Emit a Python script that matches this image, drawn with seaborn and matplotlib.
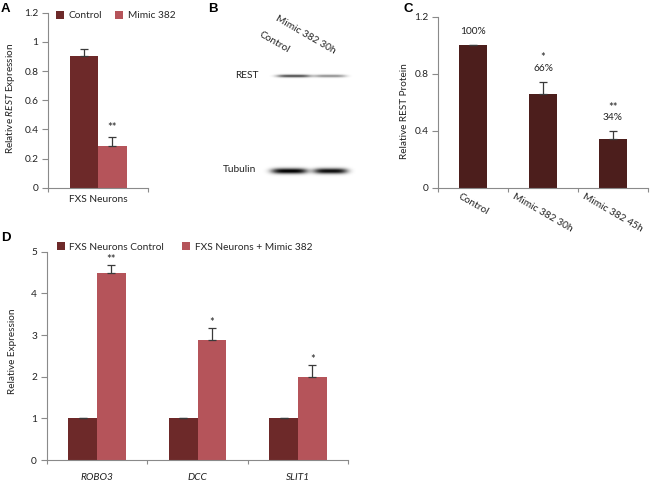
import numpy as np
import pandas as pd
import matplotlib
matplotlib.use("Agg")
import matplotlib.pyplot as plt
import seaborn as sns

# Panel A: REST expression
a_category = ["FXS Neurons"]
a_groups = ["Control", "Mimic 382"]
a_values = [0.90, 0.285]
a_errors = [0.05, 0.06]
a_stars = ["", "**"]

# Panel B: western blot lanes (relative band intensity)
b_lanes = ["Control", "Mimic 382 30h"]
b_rest = [0.68, 0.42]
b_tubulin = [1.0, 0.95]

# Panel C: REST protein
c_labels = ["Control", "Mimic 382 30h", "Mimic 382 45h"]
c_values = [1.0, 0.66, 0.34]
c_errors = [0.0, 0.085, 0.06]
c_percent = ["100%", "66%", "34%"]
c_stars = ["", "*", "**"]

# Panel D: target genes
d_genes = ["ROBO3", "DCC", "SLIT1"]
d_groups = ["FXS Neurons Control", "FXS Neurons + Mimic 382"]
d_control = [1.0, 1.0, 1.0]
d_control_err = [0.0, 0.0, 0.0]
d_mimic = [4.50, 2.87, 1.99]
d_mimic_err = [0.17, 0.30, 0.29]
d_stars = ["**", "*", "*"]

dark = "#6d2929"
light = "#b5545a"
c_color = "#4c1e1c"
axis_gray = "#8a8a8a"
text_col = "#222222"
fs = 7.3

sns.set_theme(style="white")
plt.rcParams["font.family"] = ["Lato", "DejaVu Sans"]
plt.rcParams["mathtext.fontset"] = "custom"
plt.rcParams["mathtext.rm"] = "Lato"
plt.rcParams["mathtext.it"] = "Lato:italic"

W, H = 656, 484
fig = plt.figure(figsize=(W / 100, H / 100), dpi=100)


def px_axes(left, top, right, bottom):
    return fig.add_axes([left / W, 1 - bottom / H, (right - left) / W, (bottom - top) / H])


def style_axes(ax, n_cats, yticks, ylabels):
    for s in ["top", "right"]:
        ax.spines[s].set_visible(False)
    for s in ["left", "bottom"]:
        ax.spines[s].set_color(axis_gray)
        ax.spines[s].set_linewidth(0.8)
    ax.set_xlim(-0.5, n_cats - 0.5)
    ax.set_yticks(yticks)
    ax.set_yticklabels(ylabels)
    ax.set_xticks(np.arange(-0.5, n_cats), minor=True)
    ax.tick_params(axis="x", which="major", length=0, labelsize=fs, labelcolor=text_col)
    ax.tick_params(axis="x", which="minor", bottom=True, direction="out", length=3,
                   width=0.8, color=axis_gray)
    ax.tick_params(axis="y", left=True, direction="out", length=4.5, width=0.8,
                   color=axis_gray, labelsize=fs, labelcolor=text_col, pad=2.5)
    ax.set_xlabel("")


def add_errors(ax, container, errs):
    for p, e in zip(container.patches, errs):
        x = p.get_x() + p.get_width() / 2
        h = p.get_height()
        ax.errorbar(x, h, yerr=[[0], [e]], fmt="none", ecolor="#3a3a3a",
                    elinewidth=0.9, capsize=2.8, capthick=0.9)


# ---------- Panel A ----------
axA = px_axes(48, 12.7, 148, 187.7)
dfA = pd.DataFrame({"cat": a_category * 2, "group": a_groups, "value": a_values})
sns.barplot(data=dfA, x="cat", y="value", hue="group", hue_order=a_groups,
            palette=[dark, light], width=0.57, saturation=1, errorbar=None,
            linewidth=0, ax=axA)
for cont, e in zip(axA.containers, a_errors):
    add_errors(axA, cont, [e])
for cont, s, v, e in zip(axA.containers, a_stars, a_values, a_errors):
    p = cont.patches[0]
    if s:
        axA.annotate(s, (p.get_x() + p.get_width() / 2, v + e), xytext=(0, 3),
                     textcoords="offset points", ha="center", va="bottom",
                     fontsize=8, color=text_col)
style_axes(axA, 1, [0, 0.2, 0.4, 0.6, 0.8, 1.0, 1.2],
           ["0", "0.2", "0.4", "0.6", "0.8", "1", "1.2"])
axA.set_ylim(0, 1.2)
axA.tick_params(axis="x", which="major", pad=5)
axA.set_ylabel("Relative $\\mathit{REST}$ Expression", fontsize=7.2, color=text_col)
axA.yaxis.set_label_coords(-0.31, 0.51)
hA, lA = axA.get_legend_handles_labels()
axA.legend(hA, lA, ncol=2, loc="upper left", bbox_to_anchor=(0.075, 1.01),
           frameon=False, fontsize=fs, handlelength=0.8, handleheight=0.8,
           handletextpad=0.45, columnspacing=1.3, borderaxespad=0, borderpad=0)

# ---------- Panel C ----------
axC = px_axes(438, 16.7, 648, 187.7)
dfC = pd.DataFrame({"label": c_labels, "value": c_values})
sns.barplot(data=dfC, x="label", y="value", color=c_color, width=0.4,
            saturation=1, errorbar=None, linewidth=0, ax=axC)
add_errors(axC, axC.containers[0], c_errors)
for p, v, e, pct, s in zip(axC.containers[0].patches, c_values, c_errors, c_percent, c_stars):
    x = p.get_x() + p.get_width() / 2
    axC.annotate(pct, (x, v + e), xytext=(0, 6.5), textcoords="offset points",
                 ha="center", va="bottom", fontsize=fs, color=text_col)
    if s:
        axC.annotate(s, (x, v + e), xytext=(0, 13), textcoords="offset points",
                     ha="center", va="bottom", fontsize=8, color=text_col)
style_axes(axC, 3, [0, 0.4, 0.8, 1.2], ["0", "0.4", "0.8", "1.2"])
axC.set_ylim(0, 1.2)
axC.set_xticks(range(3))
axC.set_xticklabels(c_labels, rotation=-30, ha="center", va="top",
                    rotation_mode="default")
axC.tick_params(axis="x", which="major", pad=3)
axC.set_ylabel("Relative REST Protein", fontsize=7.2, color=text_col)
axC.yaxis.set_label_coords(-0.14, 0.45)

# ---------- Panel D ----------
axD = px_axes(46.7, 251.7, 348.3, 460)
dfD = pd.DataFrame({
    "gene": d_genes * 2,
    "group": [d_groups[0]] * 3 + [d_groups[1]] * 3,
    "value": d_control + d_mimic,
})
sns.barplot(data=dfD, x="gene", y="value", hue="group", order=d_genes,
            hue_order=d_groups, palette=[dark, light], width=0.57, saturation=1,
            errorbar=None, linewidth=0, ax=axD)
add_errors(axD, axD.containers[0], d_control_err)
add_errors(axD, axD.containers[1], d_mimic_err)
for p, v, e, s in zip(axD.containers[1].patches, d_mimic, d_mimic_err, d_stars):
    axD.annotate(s, (p.get_x() + p.get_width() / 2, v + e), xytext=(0, 0),
                 textcoords="offset points", ha="center", va="bottom",
                 fontsize=8, color=text_col)
style_axes(axD, 3, [0, 1, 2, 3, 4, 5], ["0", "1", "2", "3", "4", "5"])
axD.set_ylim(0, 5)
for t in axD.get_xticklabels():
    t.set_fontstyle("italic")
axD.tick_params(axis="x", which="major", pad=9.5)
axD.set_ylabel("Relative Expression", fontsize=7.2, color=text_col)
axD.yaxis.set_label_coords(-0.099, 0.52)
hD, lD = axD.get_legend_handles_labels()
axD.legend(hD, lD, ncol=2, loc="upper left", bbox_to_anchor=(0.033, 1.045),
           frameon=False, fontsize=fs, handlelength=0.8, handleheight=0.8,
           handletextpad=0.45, columnspacing=1.8, borderaxespad=0, borderpad=0)

# ---------- Overlay: panel B blot and panel letters ----------
ov = fig.add_axes([0, 0, 1, 1], zorder=-1)
x0, x1, y0, y1 = 255, 360, 60, 185
X, Y = np.meshgrid(np.arange(x0, x1) + 0.5, np.arange(y0, y1) + 0.5)
dens = np.zeros_like(X)
for xc, hw, amp in zip([294, 330], [17, 16], b_rest):
    dens += amp * np.exp(-((Y - 76) / 1.5) ** 2) * np.exp(-((X - xc) / hw) ** 4)
for xc, hw, amp in zip([289.5, 330.5], [18, 17], b_tubulin):
    dens += amp * np.exp(-((Y - 171) / 2.8) ** 2) * np.exp(-((X - xc) / hw) ** 4)
img = 1 - np.clip(dens, 0, 1)
ov.imshow(img, cmap="gray", vmin=0, vmax=1, extent=(x0, x1, y1, y0),
          aspect="auto", interpolation="bilinear")
ov.set_xlim(0, W)
ov.set_ylim(H, 0)
ov.axis("off")

ov.text(247, 75, "REST", ha="center", va="center", fontsize=fs, color=text_col)
ov.text(240, 169, "Tubulin", ha="center", va="center", fontsize=fs, color=text_col)
ov.text(274, 42, b_lanes[0], ha="center", va="center", rotation=-30, fontsize=fs,
        color=text_col, rotation_mode="anchor")
ov.text(306, 35, b_lanes[1], ha="center", va="center", rotation=-30, fontsize=fs,
        color=text_col, rotation_mode="anchor")

letter_kw = dict(fontsize=9.5, fontweight="bold", family=["Liberation Sans", "DejaVu Sans"],
                 va="top", ha="left", color="black")
ov.text(0.5, 2.5, "A", **letter_kw)
ov.text(208.5, 2.5, "B", **letter_kw)
ov.text(403.5, 2.5, "C", **letter_kw)
ov.text(1, 232, "D", **letter_kw)

fig.savefig("out.png", dpi=100)
